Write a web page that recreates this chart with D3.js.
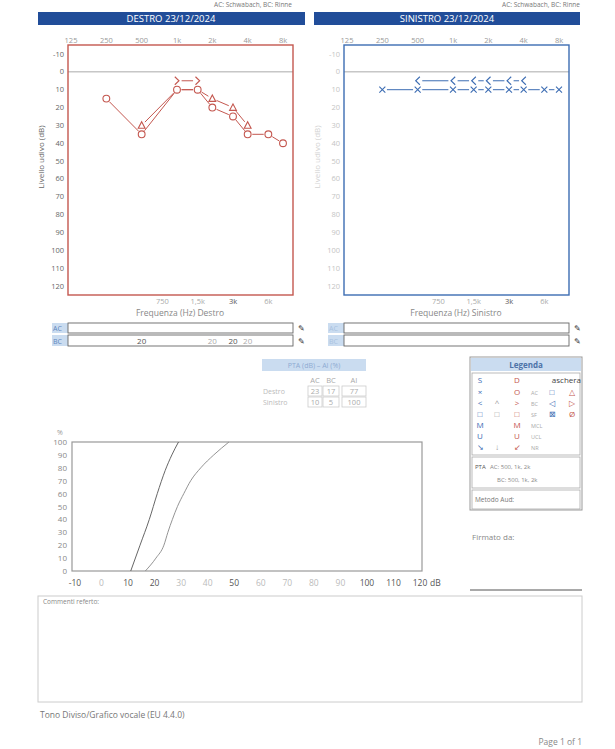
<!DOCTYPE html>
<html>
<head>
<meta charset="utf-8">
<script src="https://cdn.jsdelivr.net/npm/d3@7"></script>
<style>
  body { margin: 0; background: #fff; }
  text { font-family: "Open Sans", "Liberation Sans", sans-serif; }
</style>
</head>
<body>
<script>
// audiogram data (frequency Hz, level dB HL)
var earTitles = ["DESTRO  23/12/2024", "SINISTRO  23/12/2024"];
var earLabels = ["Frequenza (Hz) Destro", "Frequenza (Hz) Sinistro"];
var methodNote = "AC: Schwabach, BC: Rinne";
var freqTicks = [125, 250, 500, 1000, 2000, 4000, 8000];
var freqTickLabels = ["125", "250", "500", "1k", "2k", "4k", "8k"];
var midTicks = [750, 1500, 3000, 6000];
var midTickLabels = ["750", "1,5k", "3k", "6k"];
var dbTicks = [-10, 0, 10, 20, 30, 40, 50, 60, 70, 80, 90, 100, 110, 120];

var destroAC = [[250, 15], [500, 35], [1000, 10], [1500, 10], [2000, 20], [3000, 25], [4000, 35], [6000, 35], [8000, 40]];
var destroACMasked = [[500, 30], [2000, 15], [3000, 20], [4000, 30]];
var destroBC = [[1000, 5], [1500, 5]];
var destroMaskBC = [[500, "20"], [2000, "20"], [3000, "20"], [4000, "20"]];

var sinistroAC = [[250, 10], [500, 10], [1000, 10], [1500, 10], [2000, 10], [3000, 10], [4000, 10], [6000, 10], [8000, 10]];
var sinistroBC = [[500, 5], [1000, 5], [1500, 5], [2000, 5], [3000, 5], [4000, 5]];

// PTA table
var ptaCols = ["AC", "BC", "AI"];
var ptaRows = ["Destro", "Sinistro"];
var ptaValues = [[23, 17, 77], [10, 5, 100]];

// speech audiometry (dB, %)
var speechXTicks = [-10, 0, 10, 20, 30, 40, 50, 60, 70, 80, 90, 100, 110, 120];
var speechYTicks = [0, 10, 20, 30, 40, 50, 60, 70, 80, 90, 100];
var speechCurve1 = [[11, 0], [14.5, 20], [18, 40], [21, 60], [24, 78], [26.5, 90], [29, 100]];
var speechCurve2 = [[16.5, 0], [20.5, 10], [23.5, 20], [25, 30], [26.7, 40], [28.6, 50], [31, 60], [33.6, 70], [37.4, 80], [42.3, 90], [48, 100]];

// legend
var legendHead = ["S", "", "D", "", "aschera"];
var legendSymbols = [
  ["×", "", "O", "AC", "□", "△"],
  ["<", "^", ">", "BC", "◁", "▷"],
  ["□", "□", "□", "SF", "⊠", "Ø"],
  ["M", "", "M", "MCL", "", ""],
  ["U", "", "U", "UCL", "", ""],
  ["↘", "↓", "↙", "NR", "", ""]
];

var RED = "#c4574f", BLUE = "#3d6db3", NAVY = "#214d99", LIGHTBLUE = "#cadcf0";

var svg = d3.select("body").append("svg")
  .attr("width", 615)
  .attr("height", 749);

// tiny method text at the top of the scan
[292, 580].forEach(function (x) {
  svg.append("text").attr("x", x).attr("y", 7).attr("text-anchor", "end")
    .attr("font-size", 6.5).attr("fill", "#777").text(methodNote);
});

var y = d3.scaleLinear().domain([-10, 120]).range([54, 286]);

// shortened segment between two markers so the lines don't run through symbols
function gapSegments(pts, gap) {
  var out = [];
  for (var i = 1; i < pts.length; i++) {
    var a = pts[i - 1], b = pts[i];
    var dx = b[0] - a[0], dy = b[1] - a[1], len = Math.sqrt(dx * dx + dy * dy);
    if (len <= gap * 2) continue;
    var ux = dx / len, uy = dy / len;
    out.push([a[0] + ux * gap, a[1] + uy * gap, b[0] - ux * gap, b[1] - uy * gap]);
  }
  return out;
}

var symbolPaths = {
  cross: "M-3,-3L3,3M-3,3L3,-3",
  lt: "M2.2,-4L-2,0L2.2,4",
  gt: "M-2.2,-4L2,0L-2.2,4",
  tri: "M0,-3.6L3.4,2.8L-3.4,2.8Z"
};

function drawSeries(g, x, data, kind, color, lines) {
  var pts = data.map(function (d) { return [x(d[0]), y(d[1])]; });
  if (lines) {
    g.selectAll(null).data(gapSegments(pts, 4.6)).enter().append("line")
      .attr("x1", function (s) { return s[0]; }).attr("y1", function (s) { return s[1]; })
      .attr("x2", function (s) { return s[2]; }).attr("y2", function (s) { return s[3]; })
      .attr("stroke", color).attr("stroke-width", 1);
  }
  if (!kind) return;
  if (kind === "circle") {
    g.selectAll(null).data(pts).enter().append("circle")
      .attr("cx", function (p) { return p[0]; }).attr("cy", function (p) { return p[1]; })
      .attr("r", 3.4).attr("fill", "#fff").attr("stroke", color).attr("stroke-width", 1.1);
  } else {
    g.selectAll(null).data(pts).enter().append("path")
      .attr("transform", function (p) { return "translate(" + p[0] + "," + p[1] + ")"; })
      .attr("d", symbolPaths[kind]).attr("fill", "none")
      .attr("stroke", color).attr("stroke-width", 1.1);
  }
}

function drawAudiogram(ear, ox) {
  var g = svg.append("g");
  var main = ear === 0;
  var color = main ? RED : BLUE;
  var x = d3.scaleLog().domain([125, 8000]).range([71 + ox, 283 + ox]);

  // header bar
  g.append("rect").attr("x", 38 + ox).attr("y", 12)
    .attr("width", main ? 267 : 266).attr("height", 13).attr("fill", NAVY);
  g.append("text").attr("x", 171 + ox).attr("y", 22).attr("text-anchor", "middle")
    .attr("font-size", 9.5).attr("fill", "#fff").text(earTitles[ear]);

  // frequency labels, top
  g.selectAll(null).data(freqTicks).enter().append("text")
    .attr("x", function (d) { return x(d); }).attr("y", 43)
    .attr("text-anchor", "middle").attr("font-size", 7.5).attr("fill", "#999")
    .text(function (d, i) { return freqTickLabels[i]; });

  // dB labels
  g.selectAll(null).data(dbTicks).enter().append("text")
    .attr("x", 64 + ox).attr("y", function (d) { return y(d) + 2.5; })
    .attr("text-anchor", "end").attr("font-size", 7.5)
    .attr("fill", main ? "#666" : "#c4c4c4")
    .text(function (d) { return d; });

  g.append("text")
    .attr("transform", "translate(" + (44 + ox) + ",157) rotate(-90)")
    .attr("text-anchor", "middle").attr("font-size", 8)
    .attr("fill", main ? "#666" : "#d2d2d2").text("Livello udivo (dB)");

  // 0 dB reference
  g.append("line").attr("x1", 68 + ox).attr("x2", 293 + ox)
    .attr("y1", y(0)).attr("y2", y(0)).attr("stroke", "#aaa").attr("stroke-width", 1);

  g.append("rect").attr("x", 68 + ox).attr("y", 45).attr("width", 225).attr("height", 250)
    .attr("fill", "none").attr("stroke", color).attr("stroke-width", 1.4);

  // inter-octave labels, bottom
  g.selectAll(null).data(midTicks).enter().append("text")
    .attr("x", function (d) { return x(d); }).attr("y", 304)
    .attr("text-anchor", "middle").attr("font-size", 7.5)
    .attr("fill", function (d) { return d === 3000 ? "#555" : "#aaa"; })
    .text(function (d, i) { return midTickLabels[i]; });
  g.append("text").attr("x", 180 + ox).attr("y", 316).attr("text-anchor", "middle")
    .attr("font-size", 8.5).attr("fill", "#888").text(earLabels[ear]);

  // AC / BC masking rows
  ["AC", "BC"].forEach(function (lab, i) {
    var ry = i === 0 ? 323 : 335, rh = i === 0 ? 10 : 11;
    g.append("rect").attr("x", 52 + ox).attr("y", ry).attr("width", 16).attr("height", rh).attr("fill", LIGHTBLUE);
    g.append("text").attr("x", 53 + ox).attr("y", ry + rh - 2.5).attr("font-size", 7)
      .attr("fill", main ? "#5f86bd" : "#a9c2e0").text(lab);
    g.append("rect").attr("x", 68 + ox).attr("y", ry).attr("width", 225).attr("height", rh)
      .attr("fill", "#fff").attr("stroke", "#666").attr("stroke-width", 0.9);
    g.append("text").attr("x", 301 + ox).attr("y", ry + rh - 2).attr("text-anchor", "middle")
      .attr("font-family", "DejaVu Sans").attr("font-size", 8).attr("fill", "#333").text("✎");
  });

  if (main) {
    g.selectAll(null).data(destroMaskBC).enter().append("text")
      .attr("x", function (d) { return x(d[0]); }).attr("y", 344)
      .attr("text-anchor", "middle").attr("font-size", 8)
      .attr("fill", function (d, i) { return i % 2 ? "#aaa" : "#555"; })
      .text(function (d) { return d[1]; });

    // masked line uses the masked value where present, the unmasked one otherwise
    var maskedLine = destroAC.filter(function (d) { return d[0] >= 500 && d[0] <= 4000; })
      .map(function (d) {
        var m = destroACMasked.find(function (k) { return k[0] === d[0]; });
        return m ? m : d;
      });
    drawSeries(g, x, destroAC, null, RED, true);
    drawSeries(g, x, maskedLine, null, RED, true);
    drawSeries(g, x, destroBC, null, RED, true);
    drawSeries(g, x, destroAC, "circle", RED, false);
    drawSeries(g, x, destroACMasked, "tri", RED, false);
    drawSeries(g, x, destroBC, "gt", RED, false);
  } else {
    drawSeries(g, x, sinistroAC, "cross", BLUE, true);
    drawSeries(g, x, sinistroBC, "lt", BLUE, true);
  }
}

drawAudiogram(0, 0);
drawAudiogram(1, 276);

// PTA table
var pt = svg.append("g");
var colX = [315, 331, 354], colW = [14, 16, 24];
pt.append("rect").attr("x", 262).attr("y", 359).attr("width", 104).attr("height", 12).attr("fill", LIGHTBLUE);
pt.append("text").attr("x", 314).attr("y", 368).attr("text-anchor", "middle")
  .attr("font-size", 7).attr("fill", "#8eabd2").text("PTA (dB)  –  AI (%)");
pt.selectAll(null).data(ptaCols).enter().append("text")
  .attr("x", function (d, i) { return colX[i]; }).attr("y", 383)
  .attr("text-anchor", "middle").attr("font-size", 7.5).attr("fill", "#aaa")
  .text(function (d) { return d; });
ptaRows.forEach(function (r, ri) {
  var ry = 386 + ri * 11;
  pt.append("text").attr("x", 263).attr("y", ry + 8).attr("font-size", 7).attr("fill", "#bbb").text(r);
  ptaValues[ri].forEach(function (v, ci) {
    pt.append("rect").attr("x", colX[ci] - colW[ci] / 2).attr("y", ry)
      .attr("width", colW[ci]).attr("height", 10)
      .attr("fill", "none").attr("stroke", "#ccc").attr("stroke-width", 0.8);
    pt.append("text").attr("x", colX[ci]).attr("y", ry + 8).attr("text-anchor", "middle")
      .attr("font-size", 7.5).attr("fill", "#aaa").text(v);
  });
});

// Legend
var lg = svg.append("g");
lg.append("rect").attr("x", 470).attr("y", 357).attr("width", 112).attr("height", 153)
  .attr("fill", "#fff").attr("stroke", "#999").attr("stroke-width", 1);
lg.append("rect").attr("x", 471).attr("y", 358).attr("width", 110).attr("height", 13).attr("fill", LIGHTBLUE);
lg.append("text").attr("x", 526).attr("y", 368).attr("text-anchor", "middle")
  .attr("font-size", 8).attr("font-weight", "bold").attr("fill", "#4d73a8").text("Legenda");
[[373, 82], [457, 31], [490, 19]].forEach(function (b) {
  lg.append("rect").attr("x", 472).attr("y", b[0]).attr("width", 108).attr("height", b[1])
    .attr("fill", "none").attr("stroke", "#aaa").attr("stroke-width", 0.8);
});
var legX = [480, 497, 517, 531, 552, 572];
var legColor = [BLUE, "#999", RED, "#aaa", BLUE, RED];
legendHead.forEach(function (t, i) {
  lg.append("text").attr("x", i === 4 ? 581 : legX[i]).attr("y", 383)
    .attr("text-anchor", i === 4 ? "end" : "middle").attr("font-size", 8)
    .attr("fill", i === 4 ? "#444" : legColor[i]).text(t);
});
legendSymbols.forEach(function (row, ri) {
  row.forEach(function (t, ci) {
    var isLetter = /^[A-Z<>^]+$/.test(t) || t === "×";
    lg.append("text").attr("x", legX[ci]).attr("y", 395 + ri * 11)
      .attr("text-anchor", ci === 3 ? "start" : "middle")
      .attr("font-family", ci === 3 || isLetter ? null : "DejaVu Sans")
      .attr("font-size", ci === 3 ? 5.5 : 8).attr("fill", legColor[ci]).text(t);
  });
});
lg.append("text").attr("x", 475).attr("y", 469).attr("font-size", 6).attr("fill", "#555").text("PTA");
lg.append("text").attr("x", 490).attr("y", 469).attr("font-size", 6).attr("fill", "#888").text("AC: 500, 1k, 2k");
lg.append("text").attr("x", 497).attr("y", 482).attr("font-size", 6).attr("fill", "#888").text("BC: 500, 1k, 2k");
lg.append("text").attr("x", 475).attr("y", 502).attr("font-size", 6.5).attr("fill", "#777").text("Metodo Aud:");

// speech audiometry chart
var sx = d3.scaleLinear().domain([-10, 120]).range([75, 420]);
var sy = d3.scaleLinear().domain([0, 100]).range([571, 442]);
var sg = svg.append("g");
sg.append("rect").attr("x", 72).attr("y", 442).attr("width", 350).attr("height", 129)
  .attr("fill", "none").attr("stroke", "#999").attr("stroke-width", 1.2);
sg.selectAll(null).data(speechYTicks).enter().append("text")
  .attr("x", 67).attr("y", function (d) { return sy(d) + 3; })
  .attr("text-anchor", "end").attr("font-size", 8).attr("fill", "#888")
  .text(function (d) { return d; });
sg.append("text").attr("x", 60).attr("y", 435).attr("text-anchor", "middle")
  .attr("font-size", 7).attr("fill", "#999").text("%");
sg.selectAll(null).data(speechXTicks).enter().append("text")
  .attr("x", function (d) { return sx(d); }).attr("y", 586)
  .attr("text-anchor", "middle").attr("font-size", 8.5)
  .attr("fill", function (d) { return (d >= 60 && d <= 90) || d === 0 || d === 30 || d === 40 ? "#bbb" : "#555"; })
  .text(function (d) { return d; });
sg.append("text").attr("x", 430).attr("y", 586).attr("font-size", 8.5).attr("fill", "#555").text("dB");
var speechLine = d3.line().x(function (d) { return sx(d[0]); }).y(function (d) { return sy(d[1]); })
  .curve(d3.curveMonotoneX);
sg.append("path").attr("d", speechLine(speechCurve1)).attr("fill", "none").attr("stroke", "#555").attr("stroke-width", 0.9);
sg.append("path").attr("d", speechLine(speechCurve2)).attr("fill", "none").attr("stroke", "#888").attr("stroke-width", 0.9);

// signature, comments, footer
svg.append("text").attr("x", 472).attr("y", 540).attr("font-size", 8).attr("fill", "#888").text("Firmato da:");
svg.append("line").attr("x1", 470).attr("x2", 582).attr("y1", 590).attr("y2", 590).attr("stroke", "#555").attr("stroke-width", 1.2);
svg.append("rect").attr("x", 38).attr("y", 596).attr("width", 544).attr("height", 106)
  .attr("fill", "none").attr("stroke", "#ccc").attr("stroke-width", 1);
svg.append("text").attr("x", 43).attr("y", 604).attr("font-size", 6.5)
  .attr("font-family", "Liberation Sans").attr("fill", "#888").text("Commenti referto:");
svg.append("text").attr("x", 40).attr("y", 718).attr("font-size", 8.5)
  .attr("font-family", "Liberation Sans").attr("fill", "#777").text("Tono Diviso/Grafico vocale (EU 4.4.0)");
svg.append("text").attr("x", 582).attr("y", 745).attr("text-anchor", "end").attr("font-size", 8.5)
  .attr("font-family", "Liberation Sans").attr("fill", "#888").text("Page 1 of 1");
</script>
</body>
</html>
